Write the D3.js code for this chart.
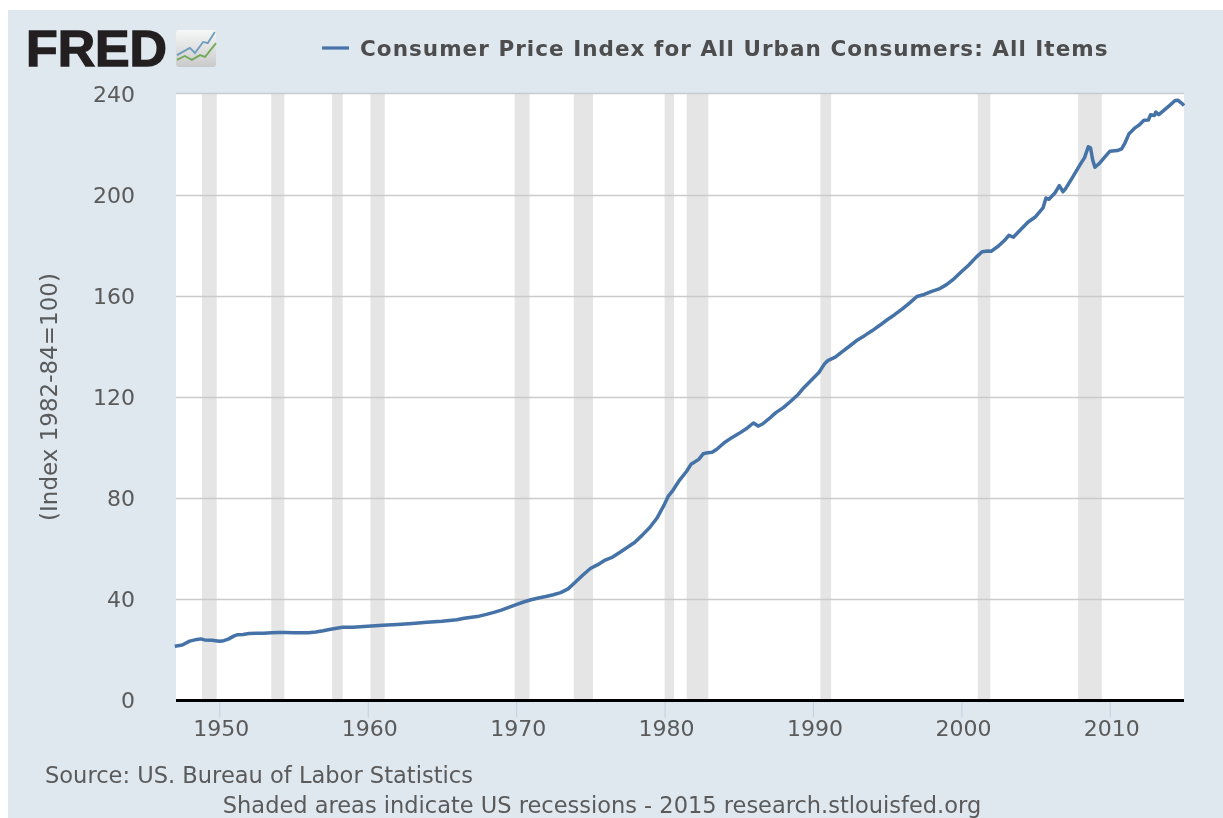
<!DOCTYPE html>
<html><head><meta charset="utf-8">
<script src="https://cdn.jsdelivr.net/npm/d3@7"></script>
<style>
html,body{margin:0;padding:0;background:#fff;overflow:hidden}
svg{display:block;filter:blur(0.45px)}
text{font-family:"DejaVu Sans",sans-serif;fill:#5a5a5a}
</style></head><body>
<svg id="c" width="1223" height="818"></svg>
<script>
const years=[1947,1947.5,1948,1948.5,1948.75,1949,1949.5,1950,1950.3,1950.6,1951,1951.2,1951.6,1952,1952.5,1953,1953.5,1954,1954.5,1955,1955.5,1956,1956.5,1957,1957.5,1958,1958.3,1959,1959.5,1960,1960.5,1961,1962,1963,1964,1965,1966,1966.5,1967,1967.5,1968,1968.5,1969,1969.5,1970,1970.5,1971,1971.5,1972,1972.5,1973,1973.5,1974,1974.5,1975,1975.5,1976,1976.5,1977,1977.5,1978,1978.5,1979,1979.5,1980,1980.25,1980.5,1981,1981.5,1981.8,1982,1982.3,1982.6,1982.9,1983.2,1983.5,1984,1984.5,1985,1985.5,1985.9,1986,1986.3,1986.6,1987,1987.5,1988,1988.5,1989,1989.4,1990,1990.4,1990.8,1991,1991.5,1992,1992.5,1993,1993.5,1994,1994.5,1995,1995.5,1996,1996.5,1997,1997.5,1998,1998.5,1999,1999.5,2000,2000.5,2001,2001.4,2001.8,2002,2002.5,2003,2003.2,2003.5,2004,2004.5,2005,2005.5,2005.7,2005.9,2006.3,2006.6,2006.85,2007,2007.5,2008,2008.3,2008.55,2008.7,2008.85,2009,2009.3,2009.7,2010,2010.5,2010.8,2011,2011.3,2011.7,2012,2012.3,2012.6,2012.75,2013,2013.1,2013.3,2013.6,2014,2014.4,2014.6,2014.85,2015];
const cpi=[21.5,22,23.5,24.2,24.4,24,23.9,23.5,23.7,24.3,25.6,26,26.1,26.5,26.6,26.6,26.8,26.9,26.9,26.8,26.8,26.8,27.1,27.6,28.2,28.7,29,29,29.2,29.4,29.6,29.8,30.1,30.5,31,31.4,32,32.6,33,33.4,34.1,34.9,35.8,36.9,38,39,39.9,40.6,41.2,41.9,42.7,44.2,46.9,49.7,52.3,53.8,55.6,56.8,58.7,60.7,62.7,65.5,68.5,72.3,77.8,80.9,82.7,87.2,90.9,93.7,94.4,95.5,97.7,98.1,98.3,99.4,102,104,105.7,107.6,109.5,109.9,108.7,109.5,111.4,114,116,118.5,121.2,124,127.5,129.9,133.5,134.6,136,138.3,140.5,142.8,144.6,146.5,148.6,150.8,152.8,155,157.4,160,160.8,162,163,164.7,167,169.8,172.5,175.6,177.7,178,177.9,180,182.8,184.2,183.5,186.5,189.5,191.6,195.1,199,198.5,201,203.9,201.5,202.5,207.3,212.2,215,219.3,218.9,214,211.2,212.7,215.5,217.5,217.8,218.5,220.5,224.5,226.8,228,229.8,229.9,232,231.7,233,232,233.5,235.5,237.6,237.7,236.5,235.6];
const recessionStart=[1948.83,1953.5,1957.6,1960.18,1969.9,1973.88,1980.0,1981.49,1990.5,2001.1,2007.87];
const recessionEnd=[1949.82,1954.38,1958.31,1961.14,1970.9,1975.18,1980.64,1982.95,1991.22,2001.95,2009.46];
const yTicks=[0,40,80,120,160,200,240];
const xTicks=[1950,1960,1970,1980,1990,2000,2010];
const legendLabel="Consumer Price Index for All Urban Consumers: All Items";
const yTitle="(Index 1982-84=100)";
const sourceText="Source: US. Bureau of Labor Statistics";
const noteText="Shaded areas indicate US recessions - 2015 research.stlouisfed.org";
const iconBlue=[[0,0.77],[0.33,0.53],[0.46,0.7],[0.67,0.33],[0.79,0.37],[0.97,0]];
const iconGreen=[[0,0.93],[0.2,0.8],[0.38,0.93],[0.59,0.77],[0.72,0.83],[1,0.37]];

const svg=d3.select("#c");
const L=176,R=1184,T=93.5,B=700.5;
svg.append("rect").attr("x",8).attr("y",10).attr("width",1215).attr("height",808).attr("fill","#dfe7ef");
svg.append("rect").attr("x",L).attr("y",T).attr("width",R-L).attr("height",B-T).attr("fill","#fff");

const x=d3.scaleLinear().domain([1947.08,2015]).range([L,R]);
const y=d3.scaleLinear().domain([0,240]).range([B,94.5]);

svg.append("g").selectAll("rect").data(recessionStart).join("rect")
 .attr("x",d=>x(d)).attr("y",T).attr("width",(d,i)=>x(recessionEnd[i])-x(d)).attr("height",B-T).attr("fill","#e5e5e5");

svg.append("g").selectAll("line").data(yTicks.filter(d=>d>0)).join("line")
 .attr("x1",L).attr("x2",R).attr("y1",d=>d===240?T:y(d)).attr("y2",d=>d===240?T:y(d))
 .attr("stroke","#c8c8c8").attr("stroke-width",1.5).attr("stroke-opacity",0.95);

const ya=svg.append("g").attr("transform",`translate(${L},0)`).call(d3.axisLeft(y).tickValues(yTicks).tickSize(0).tickPadding(41));
ya.select(".domain").remove();
ya.selectAll("text").attr("font-size",22).attr("font-family",null).style("fill","#5a5a5a");

const xa=svg.append("g").attr("transform",`translate(0,${B})`).call(d3.axisBottom(x).tickValues(xTicks).tickSize(17).tickFormat(d3.format("d")).tickPadding(3));
xa.select(".domain").remove();
xa.selectAll("line").attr("stroke","#c0d0e0").attr("stroke-width",1);
xa.selectAll("text").attr("font-size",22).attr("font-family",null).attr("dx",1.5).style("fill","#5a5a5a");
svg.append("line").attr("x1",L).attr("x2",R).attr("y1",B).attr("y2",B).attr("stroke","#000").attr("stroke-width",3.2);

const line=d3.line().x(d=>x(d[0])).y(d=>y(d[1])).curve(d3.curveLinear);
svg.append("path").datum(years.map((d,i)=>[d,cpi[i]])).attr("d",line).attr("fill","none")
 .attr("stroke","#4572a7").attr("stroke-width",3.5).attr("stroke-linejoin","round");

svg.append("line").attr("x1",322).attr("x2",349).attr("y1",48).attr("y2",48).attr("stroke","#4572a7").attr("stroke-width",3.2);
svg.append("text").attr("x",360).attr("y",55.5).attr("font-size",21.5).attr("font-weight","bold").attr("letter-spacing","1.04").style("fill","#4d4d4d").text(legendLabel);

svg.append("text").attr("transform","translate(57,397) rotate(-90)").attr("text-anchor","middle").attr("font-size",23).text(yTitle);
svg.append("text").attr("x",45).attr("y",783).attr("font-size",22.55).text(sourceText);
svg.append("text").attr("x",602).attr("y",812.5).attr("text-anchor","middle").attr("font-size",22.5).text(noteText);

svg.append("text").attr("x",26).attr("y",66).attr("font-size",50).attr("font-weight","bold").attr("textLength",141).attr("lengthAdjust","spacingAndGlyphs")
 .style("font-family","'Liberation Sans',sans-serif").style("fill","#231f20").style("stroke","#231f20").style("stroke-width",1.4).text("FRED");
const defs=svg.append("defs");
const g=defs.append("linearGradient").attr("id","ic").attr("x1",0).attr("y1",0).attr("x2",0).attr("y2",1);
g.append("stop").attr("offset",0).attr("stop-color","#f6f7f7");
g.append("stop").attr("offset",1).attr("stop-color","#c9cac9");
svg.append("rect").attr("x",176).attr("y",30).attr("width",40).attr("height",37).attr("rx",3).attr("fill","url(#ic)");
const ix=d3.scaleLinear().domain([0,1]).range([177,216]), iy=d3.scaleLinear().domain([0,1]).range([32,62]);
const il=d3.line().x(d=>ix(d[0])).y(d=>iy(d[1]));
svg.append("path").attr("d",il(iconBlue)).attr("fill","none").attr("stroke","#6f9dbd").attr("stroke-width",1.8);
svg.append("path").attr("d",il(iconGreen)).attr("fill","none").attr("stroke","#75a95a").attr("stroke-width",1.8);
</script>
</body></html>
